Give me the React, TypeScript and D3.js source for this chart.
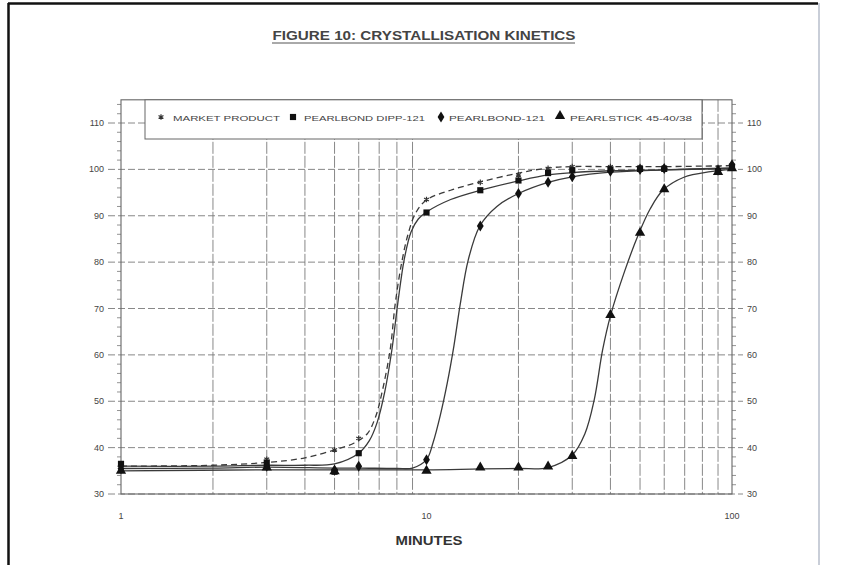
import React from 'react'
import * as d3 from 'd3'

const title = 'FIGURE 10: CRYSTALLISATION KINETICS'
const xTitle = 'MINUTES'
const seriesNames = ['MARKET PRODUCT', 'PEARLBOND DIPP-121', 'PEARLBOND-121', 'PEARLSTICK 45-40/38']
const xTickValues = [1, 10, 100]
const yTickValues = [30, 40, 50, 60, 70, 80, 90, 100, 110]

// measured points (markers)
const marketMinutes = [1, 3, 5, 6, 10, 15, 20, 25, 30, 40, 50, 60, 90, 100]
const marketValues = [36.5, 37.5, 39.5, 42, 93.5, 97.2, 98.8, 100.2, 100.6, 100.6, 100.6, 100.5, 100.4, 100.8]
const dippMinutes = [1, 3, 5, 6, 10, 15, 20, 25, 30, 40, 50, 60, 90, 100]
const dippValues = [36.5, 36.8, 34.8, 38.8, 90.7, 95.5, 97.6, 99.2, 99.8, 100, 100.1, 100.1, 99.6, 100.6]
const pb121Minutes = [1, 3, 5, 6, 10, 15, 20, 25, 30, 40, 50, 60, 90, 100]
const pb121Values = [35.5, 36, 35.2, 36, 37.4, 87.8, 94.8, 97.2, 98.4, 99.6, 100, 100.2, 99.8, 101]
const stickMinutes = [1, 3, 5, 10, 15, 20, 25, 30, 40, 50, 60, 90, 100]
const stickValues = [34.8, 35.5, 34.7, 34.8, 35.5, 35.5, 35.7, 38, 68.4, 86.1, 95.5, 99.2, 100]

// fitted curves as drawn in the figure
const marketCurveMinutes = [1, 2, 3, 4, 5, 5.8, 6.4, 6.8, 7.1, 7.6, 7.9, 8.3, 8.7, 9.2, 10, 12, 15, 20, 25, 30, 40, 60, 100]
const marketCurveValues = [36, 36.2, 36.8, 37.8, 39.5, 41, 43, 46.5, 51, 61, 71, 80, 86, 90.5, 93.4, 95.5, 97.3, 99.2, 100.3, 100.6, 100.6, 100.6, 100.8]
const dippCurveMinutes = [1, 2, 3, 4, 5, 6, 6.5, 6.9, 7.3, 7.7, 8.05, 8.45, 8.9, 9.4, 10, 12, 15, 20, 25, 30, 40, 60, 100]
const dippCurveValues = [36, 36, 36.2, 36.2, 36.5, 38.8, 41.5, 45.5, 52, 61, 71, 80.5, 86.5, 89.3, 90.8, 93.5, 95.5, 97.5, 98.8, 99.3, 99.7, 99.9, 100.2]
const pb121CurveMinutes = [1, 2, 3, 5, 6, 8, 9, 10, 10.5, 11.1, 11.7, 12.3, 12.9, 13.7, 14.95, 17, 20, 25, 30, 40, 60, 100]
const pb121CurveValues = [35.5, 35.6, 35.8, 35.6, 35.6, 35.5, 35.6, 37.4, 41, 47, 54, 62, 71, 80.5, 87.8, 92, 94.8, 97.2, 98.4, 99.4, 99.9, 100.3]
const stickCurveMinutes = [1, 3, 5, 10, 15, 20, 25, 30, 33, 35.4, 37.7, 40, 44.5, 49.5, 54, 59.4, 69.6, 85, 100]
const stickCurveValues = [35, 35.2, 35.2, 35.2, 35.4, 35.5, 35.7, 38.4, 43, 50.3, 61, 68.4, 78, 86.1, 91.5, 95.5, 98.3, 99.5, 100]

const W = 844
const H = 565
const font = 'Arial, "Liberation Sans", sans-serif'

const zip = (xs: number[], ys: number[]) => xs.map((m, i) => [m, ys[i]] as [number, number])

const x = d3.scaleLog().domain([1, 100]).range([121, 732])
const y = d3.scaleLinear().domain([30, 110]).range([494, 123])
const yTop = y(115)
const yBottom = y(30)

const series = [
  { name: seriesNames[0], pts: zip(marketMinutes, marketValues), curve: zip(marketCurveMinutes, marketCurveValues), dash: '6 4', marker: 'star' },
  { name: seriesNames[1], pts: zip(dippMinutes, dippValues), curve: zip(dippCurveMinutes, dippCurveValues), dash: null, marker: 'square' },
  { name: seriesNames[2], pts: zip(pb121Minutes, pb121Values), curve: zip(pb121CurveMinutes, pb121CurveValues), dash: null, marker: 'diamond' },
  { name: seriesNames[3], pts: zip(stickMinutes, stickValues), curve: zip(stickCurveMinutes, stickCurveValues), dash: null, marker: 'triangle' },
]

const legendItems = [
  { marker: 'star', mx: 161, tx: 173, tw: 107 },
  { marker: 'square', mx: 293, tx: 304, tw: 121 },
  { marker: 'diamond', mx: 441, tx: 449, tw: 96 },
  { marker: 'triangle', mx: 560, tx: 570, tw: 122 },
]

const line = d3.line<[number, number]>()
  .x(d => x(d[0]))
  .y(d => y(d[1]))
  .curve(d3.curveCatmullRom.alpha(0.5))

function Marker({ type, cx, cy }: { type: string, cx: number, cy: number }) {
  const t = `translate(${cx},${cy})`
  if (type === 'square') return <path transform={t} d={d3.symbol(d3.symbolSquare, 38)() as string} fill="#111" />
  if (type === 'diamond') return <path transform={t} d="M0,-5.5L3.4,0L0,5.5L-3.4,0Z" fill="#111" />
  if (type === 'triangle') return <path transform={t + ' translate(0,-1)'} d={d3.symbol(d3.symbolTriangle, 46)() as string} fill="#111" />
  return <path transform={t} d={d3.symbol(d3.symbolAsterisk, 22)() as string} fill="none" stroke="#333" strokeWidth={1.2} />
}

export default function App() {
  const vGrid = [...d3.range(2, 10), ...d3.range(20, 100, 10)]
  const minorY = d3.range(30, 116, 2).filter(v => v % 10 !== 0)
  return (
    <svg width={W} height={H} style={{ position: 'absolute', left: 0, top: 0, background: '#fff' }}>
      {/* page frame */}
      <line x1={8.5} x2={8.5} y1={3} y2={H} stroke="#111" strokeWidth={2.5} />
      <line x1={8} x2={818} y1={3.5} y2={3.5} stroke="#111" strokeWidth={2.5} />
      <line x1={819} x2={819} y1={3} y2={H} stroke="#c9ced8" strokeWidth={2} />

      <text x={424} y={40} textAnchor="middle" fontFamily={font} fontSize={12} fontWeight="bold" fill="#444"
        textLength={303} lengthAdjust="spacingAndGlyphs">{title}</text>
      <line x1={272} x2={575} y1={43} y2={43} stroke="#555" strokeWidth={1} />

      {/* grid */}
      {vGrid.map(v => (
        <line key={'v' + v} x1={x(v)} x2={x(v)} y1={yTop} y2={yBottom} stroke="#7a7a7a" strokeWidth={0.9} strokeDasharray="12 2" />
      ))}
      {yTickValues.map(v => (
        <line key={'h' + v} x1={108} x2={743} y1={y(v)} y2={y(v)} stroke="#7a7a7a" strokeWidth={0.9} strokeDasharray="7 3" />
      ))}
      {minorY.map(v => (
        <g key={'m' + v}>
          <line x1={117} x2={121} y1={y(v)} y2={y(v)} stroke="#777" strokeWidth={0.8} />
          <line x1={732} x2={736} y1={y(v)} y2={y(v)} stroke="#777" strokeWidth={0.8} />
        </g>
      ))}
      <rect x={x(1)} y={yTop} width={x(100) - x(1)} height={yBottom - yTop} fill="none" stroke="#666" strokeWidth={1.1} />

      {/* axis labels */}
      {yTickValues.map(v => (
        <g key={'yl' + v} fontFamily={font} fontSize={9} fill="#444">
          <text x={104} y={y(v) + 3} textAnchor="end">{v}</text>
          <text x={747} y={y(v) + 3} textAnchor="start">{v}</text>
        </g>
      ))}
      {xTickValues.map(v => (
        <text key={'xl' + v} x={x(v)} y={519} textAnchor="middle" fontFamily={font} fontSize={9} fill="#444">{v}</text>
      ))}
      <text x={429} y={545} textAnchor="middle" fontFamily={font} fontSize={12} fontWeight="bold" fill="#333"
        textLength={67} lengthAdjust="spacingAndGlyphs">{xTitle}</text>

      {/* curves */}
      {series.map(s => (
        <path key={'c' + s.name} d={line(s.curve) as string} fill="none" stroke="#3a3a3a" strokeWidth={1.3}
          strokeDasharray={s.dash ?? undefined} />
      ))}
      {series.map(s => (
        <g key={'p' + s.name}>
          {s.pts.map((p, i) => <Marker key={i} type={s.marker} cx={x(p[0])} cy={y(p[1])} />)}
        </g>
      ))}

      {/* legend */}
      <rect x={145} y={yTop} width={557} height={139 - yTop} fill="#fff" stroke="#666" strokeWidth={1} />
      {legendItems.map((l, i) => (
        <g key={'lg' + i}>
          <Marker type={l.marker} cx={l.mx} cy={117} />
          <text x={l.tx} y={120.5} fontFamily={font} fontSize={8} fill="#444" textLength={l.tw}
            lengthAdjust="spacingAndGlyphs">{seriesNames[i]}</text>
        </g>
      ))}
    </svg>
  )
}
